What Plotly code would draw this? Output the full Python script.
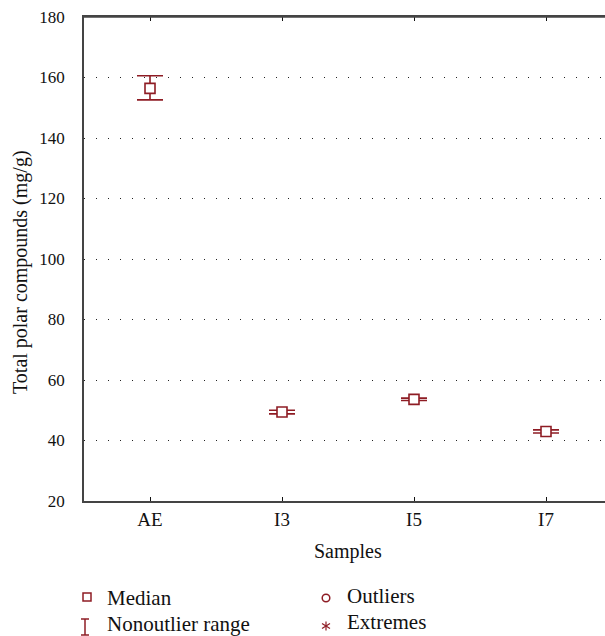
import plotly.graph_objects as go

samples = ["AE", "I3", "I5", "I7"]
median = [156.4, 49.4, 53.6, 43.0]
range_low = [152.6, 48.8, 53.2, 42.5]
range_high = [160.6, 50.0, 54.0, 43.5]
y_ticks = [20, 40, 60, 80, 100, 120, 140, 160, 180]

RED = "#8e1c24"
AX = "#444444"
FONT = "Liberation Serif"
W, H = 605, 636
L, R, T, B = 84, 0, 17, 135
PW, PH = W - L - R, H - T - B

def px(x):
    return (x - L) / PW

def py(y):
    return 1 - (y - T) / PH

x_idx = list(range(len(samples)))
err_plus = [h - m for h, m in zip(range_high, median)]
err_minus = [m - l for m, l in zip(median, range_low)]

fig = go.Figure()
fig.add_trace(go.Scatter(
    x=x_idx, y=median, mode="markers",
    marker=dict(symbol="square", size=10, color="white",
                line=dict(color=RED, width=1.6)),
    error_y=dict(type="data", symmetric=False, array=err_plus,
                 arrayminus=err_minus, color=RED, thickness=1.6, width=13),
    showlegend=False, hoverinfo="skip",
))

fig.update_layout(
    width=W, height=H,
    margin=dict(l=L, r=R, t=T, b=B, autoexpand=False),
    paper_bgcolor="white", plot_bgcolor="white",
    font=dict(family=FONT, size=19, color="#111111"),
    showlegend=False,
)
fig.update_xaxes(
    range=[-0.5, 3.447], tickvals=x_idx, ticktext=samples,
    showline=True, linecolor=AX, linewidth=1.5, mirror="ticks",
    ticks="inside", ticklen=4, tickcolor="#111111", tickwidth=1,
    showgrid=False, zeroline=False, tickfont=dict(size=19),
)
fig.update_yaxes(
    range=[20, 180], tickvals=y_ticks,
    showline=True, linecolor=AX, linewidth=1.5,
    ticks="", showgrid=True, gridcolor="#222222", gridwidth=1,
    griddash="1px,11px", zeroline=False, tickfont=dict(size=17),
    ticklabelstandoff=14,
)

shapes = []
shapes.append(dict(type="line", xref="paper", yref="paper", x0=0, x1=1, y0=1, y1=1,
                   line=dict(color=AX, width=1.5)))

def pix_shape(kind, cx, cy, x0, x1, y0, y1, **kw):
    return dict(type=kind, xref="paper", yref="paper", xsizemode="pixel", ysizemode="pixel",
                xanchor=px(cx), yanchor=py(cy), x0=x0, x1=x1, y0=y0, y1=y1, **kw)

shapes.append(pix_shape("rect", 87, 597, -4, 4, -4, 4, line=dict(color=RED, width=1.5)))
shapes.append(pix_shape("line", 85, 627, 0, 0, -8, 8, line=dict(color=RED, width=1.5)))
shapes.append(pix_shape("line", 85, 619, -4, 4, 0, 0, line=dict(color=RED, width=1.5)))
shapes.append(pix_shape("line", 85, 635, -4, 4, 0, 0, line=dict(color=RED, width=1.5)))
shapes.append(pix_shape("circle", 326, 598, -3.8, 3.8, -3.8, 3.8, line=dict(color=RED, width=1.5)))
for (dx0, dx1, dy0, dy1) in [(0, 0, -4.5, 4.5), (-4, 4, -2.5, 2.5), (-4, 4, 2.5, -2.5)]:
    shapes.append(pix_shape("line", 326, 626, dx0, dx1, dy0, dy1, line=dict(color=RED, width=1.2)))
fig.update_layout(shapes=shapes)

ann = []
ann.append(dict(text="Samples", x=px(348), y=py(551), xref="paper", yref="paper",
                showarrow=False, font=dict(size=20), xanchor="center", yanchor="middle"))
ann.append(dict(text="Total polar compounds (mg/g)", x=px(20), y=py(272), xref="paper", yref="paper",
                showarrow=False, font=dict(size=20), textangle=-90, xanchor="center", yanchor="middle"))
for text, x, y in [("Median", 105, 598), ("Nonoutlier range", 105, 624),
                   ("Outliers", 345, 596), ("Extremes", 345, 622)]:
    ann.append(dict(text=text, x=px(x), y=py(y), xref="paper", yref="paper",
                    showarrow=False, font=dict(size=21), xanchor="left", yanchor="middle"))
fig.update_layout(annotations=ann)

fig.write_html("out.html", config={"displayModeBar": False},
               post_script="document.body.style.margin='0';")
